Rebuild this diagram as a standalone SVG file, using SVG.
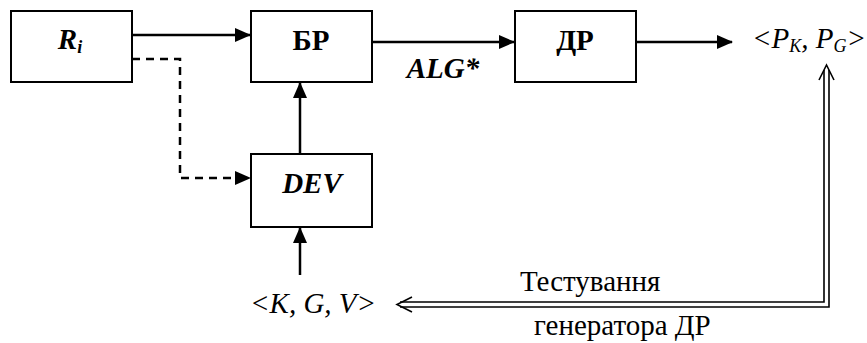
<svg xmlns="http://www.w3.org/2000/svg" width="867" height="343" viewBox="0 0 867 343">
<style>
.box{fill:#fff;stroke:#000;stroke-width:2}
.ln{fill:none;stroke:#000;stroke-width:2.5}
.dl{fill:none;stroke:#000;stroke-width:2.5;stroke-dasharray:8,6}
.db{fill:none;stroke:#000;stroke-width:1.6}
.t{font-family:"Liberation Serif","Times New Roman",serif;fill:#000;font-size:29px}
.b{font-weight:bold}
.i{font-style:italic}
.s{font-size:18px}
</style>
<defs>
<marker id="ahL" markerWidth="16" markerHeight="14" refX="15" refY="7" orient="auto" markerUnits="userSpaceOnUse" viewBox="0 0 16 14">
<path d="M0,0 L16,7 L0,14 z" fill="#000"/>
</marker>
</defs>
<g id="node-ri"><rect class="box" x="11" y="11" width="121" height="71"/><text class="t b i" x="70" y="49" text-anchor="middle">R<tspan class="s" dy="4">i</tspan></text></g>
<g id="node-br"><rect class="box" x="251" y="11" width="121" height="71"/><text class="t b" x="311" y="50" text-anchor="middle">БР</text></g>
<g id="node-dr"><rect class="box" x="515" y="11" width="121" height="71"/><text class="t b" x="575" y="50" text-anchor="middle">ДР</text></g>
<g id="node-dev"><rect class="box" x="251" y="154" width="121" height="73"/><text class="t b i" x="312" y="193" text-anchor="middle">DEV</text></g>
<g id="node-pkpg"><text class="t i" x="752" y="48">&lt;P<tspan class="s" dy="4">K</tspan><tspan dy="-4">, P</tspan><tspan class="s" dy="4">G</tspan><tspan dy="-4">&gt;</tspan></text></g>
<g id="node-kgv"><text class="t i" x="250" y="313">&lt;K, G, V&gt;</text></g>
<g id="connectors">
<line class="ln" x1="132" y1="35" x2="250" y2="35" marker-end="url(#ahL)"/>
<line class="ln" x1="372" y1="42" x2="514" y2="42" marker-end="url(#ahL)"/>
<line class="ln" x1="636" y1="42" x2="732" y2="42" marker-end="url(#ahL)"/>
<polyline class="dl" points="132,59 180,59 180,178 250,178" marker-end="url(#ahL)"/>
<line class="ln" x1="300" y1="154" x2="300" y2="83" marker-end="url(#ahL)"/>
<line class="ln" x1="300" y1="275" x2="300" y2="228" marker-end="url(#ahL)"/>
<path class="db" d="M824,70 V302 H400 M829,70 V307 H400"/>
<path class="db" d="M819,80 L826.5,65 L834,80"/>
<path class="db" d="M412,297 L397,304.5 L412,312"/>
<text class="t b i" x="443" y="78" text-anchor="middle">ALG*</text>
<text class="t" x="520" y="291">Тестування</text>
<text class="t" x="534" y="335">генератора ДР</text>
</g>
</svg>
